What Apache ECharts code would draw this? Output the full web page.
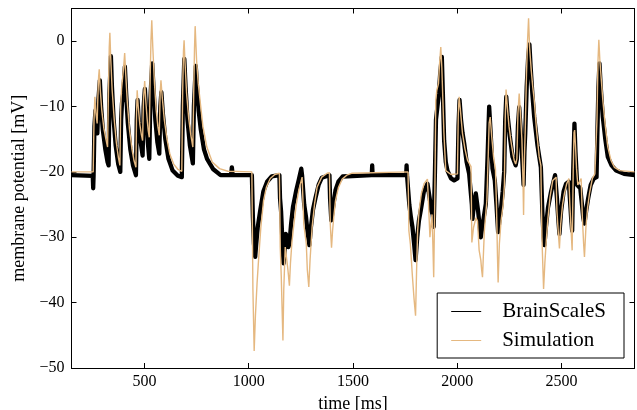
<!DOCTYPE html>
<html><head><meta charset="utf-8">
<script src="https://cdn.jsdelivr.net/npm/echarts@6/dist/echarts.min.js"></script>
<style>html,body{margin:0;padding:0;background:#fff}#c{width:637px;height:410px}</style>
</head><body><div id="c"></div>
<script>
const xTicks = [500, 1000, 1500, 2000, 2500];
const yTicks = [-50, -40, -30, -20, -10, 0];
const seriesNames = ['BrainScaleS', 'Simulation'];

const brainscales = [
[150,-20.5],[252,-20.6],[254,-22.5],[256,-20.5],
[260,-13],[265,-10.6],[270,-13],[274,-14.1],
[279,-9],[286,-6],
[292,-10],[300,-13.5],[312,-16.5],[323,-18.5],[328,-19],
[332,-8],[339,-2.3],
[344,-7],[352,-12],[362,-16],[374,-18.8],[384,-20],
[388,-12],[392,-9.5],[398,-8],[406,-3.9],
[412,-8],[420,-12.5],[432,-16.5],[445,-19],[459,-20.5],
[463,-12],[467,-9],
[473,-12.5],[482,-15.5],[491,-17.5],
[496,-10],[502,-7.3],
[508,-11],[516,-15.5],[523,-18],
[528,-9],[537,-3.4],
[543,-7],[552,-12],[562,-15.5],[571,-17.2],
[576,-10],[581,-7.8],
[588,-11],[600,-15],[615,-18],[635,-19.8],[660,-20.6],[679,-20.8],
[684,-10],[691,-2.7],
[697,-7],[706,-12],[718,-16],[732,-18.7],
[737,-10],[746,-3.8],
[752,-7],[760,-10.7],[770,-13.5],[785,-16.5],[800,-18],[830,-19.6],[865,-20.5],[915,-20.5],[919,-19.3],[923,-20.5],[1015,-20.5],
[1020,-27],[1025,-31],[1031,-33],
[1036,-31],[1043,-28.5],[1055,-25.9],[1070,-23],[1088,-21.5],[1110,-20.7],[1147,-20.5],
[1150,-24],[1155,-26],[1162,-31],[1167,-34],
[1172,-32],[1178,-29.5],[1184,-30],[1190,-31.5],[1195,-31],
[1203,-28],[1212,-25.4],[1228,-22.8],[1240,-21.2],[1252,-19.5],[1256,-20.6],[1261,-20.6],
[1266,-25],[1275,-27],[1283,-29.5],[1291,-31.2],
[1298,-28.5],[1308,-25.8],[1320,-24],[1335,-22],[1350,-20.9],[1387,-20.5],
[1390,-24],[1396,-27.4],
[1404,-25.5],[1416,-22.8],[1430,-21.5],[1450,-20.7],[1590,-20.5],[1592,-19],[1594,-20.5],[1755,-20.5],[1757,-19],[1759,-20.5],[1764,-20.5],
[1770,-25],[1778,-27],[1785,-28.4],[1793,-31],[1800,-33.5],
[1808,-30],[1816,-27.5],[1825,-25.9],[1840,-23],[1857,-21.8],[1866,-21.5],
[1870,-24.5],[1876,-26],[1882,-26.5],[1887,-28.4],
[1893,-20],[1898,-12],[1905,-10],[1912,-8],[1918,-5],[1926,-2.4],
[1931,-8],[1937,-15.2],[1945,-18.5],[1953,-19.8],[1970,-21],[1985,-21.3],[2001,-21],
[2006,-13],[2011,-9],
[2018,-12],[2025,-14],[2033,-15.6],[2045,-18.5],[2057,-20.3],[2066,-20.5],
[2070,-25],[2073,-27.2],
[2080,-25],[2089,-23.3],[2100,-26],[2108,-28.5],[2113,-30],
[2122,-28],[2137,-24.9],[2145,-18],[2153,-10],
[2160,-14],[2169,-19.5],[2180,-21.3],[2188,-25],[2196,-29.2],
[2202,-27.5],[2209,-25.9],[2218,-23],[2225,-20],[2230,-12],[2235,-8.5],
[2242,-11.5],[2252,-14.5],[2265,-17.7],[2280,-19],[2286,-18],
[2291,-13],[2297,-10.1],
[2303,-13],[2310,-17],[2315,-20],[2318,-22],
[2322,-17],[2326,-14.1],[2333,-7],[2340,-2.5],[2346,-0.5],
[2352,-4],[2360,-8],[2369,-11.6],[2385,-16],[2401,-19.3],
[2408,-26],[2414,-30],[2418,-31.2],
[2425,-28.5],[2435,-25.5],[2450,-23],[2469,-20.5],
[2478,-24],[2484,-27],[2490,-29.5],
[2498,-26],[2510,-23],[2522,-21.8],[2535,-21.5],
[2540,-24],[2546,-27],[2551,-29],
[2556,-20],[2562,-12.6],
[2567,-17],[2575,-22],[2590,-22.5],
[2598,-25],[2604,-27],[2610,-27.9],
[2618,-26],[2628,-24],[2640,-22],[2655,-21],[2668,-20.8],
[2672,-14],[2677,-7],[2682,-3.4],
[2688,-7],[2698,-11.6],[2710,-15],[2722,-17.7],[2740,-19],[2762,-19.8],[2800,-20.3],[2850,-20.5]
];

const simulation = [
[150,-20],[254,-20],
[258,-12],[262,-8.5],
[267,-11],[273,-12.6],
[276,-9],[280,-5.5],[283,-4.3],
[288,-7.5],[295,-10.5],[305,-13.3],[315,-15],[323,-16.2],
[327,-8],[331,-1],[334,1.3],
[338,-2.5],[345,-7.5],[355,-12],[365,-15.5],[375,-17.8],[382,-19],
[386,-10],[390,-7.3],[395,-7.5],[400,-4],[405,-1.8],
[410,-5],[418,-9.5],[428,-13.5],[440,-16.5],[450,-18.3],[459,-19.3],
[462,-11],[465,-7.5],
[470,-10],[478,-12.8],[485,-14.3],[491,-15.2],
[495,-9],[501,-6.1],
[506,-9],[513,-12],[518,-13.7],[523,-14.7],
[527,-6],[531,0],[535,3.2],
[540,-1],[548,-6.5],[556,-10.5],[564,-13],[571,-14.4],
[575,-8],[579,-6],
[585,-8.5],[595,-12],[608,-15],[622,-17.3],[640,-18.8],[660,-19.6],[679,-19.9],
[683,-8],[687,-1.5],[690,0.15],
[694,-3],[702,-8],[712,-11.8],[722,-14.3],[732,-16.2],
[736,-8],[740,-1],[743,2.3],
[750,-3],[758,-6.5],[767,-9.2],[780,-13],[799,-16.2],[825,-18.5],[860,-19.5],[900,-19.9],[1015,-20],
[1020,-38],[1026,-47.4],
[1032,-42],[1040,-37],[1047,-33.5],[1058,-28.5],[1071,-24.4],[1085,-22.3],[1103,-21],[1125,-20.4],[1147,-20.2],
[1151,-31.5],[1156,-36],[1160,-41],[1164,-45.8],
[1168,-38],[1175,-31.5],[1180,-31.5],[1188,-35],[1195,-37.4],
[1200,-34],[1207,-30.8],[1215,-28.4],[1228,-25],[1240,-22.8],[1256,-20.8],[1261,-20.6],
[1264,-28],[1270,-29.5],[1276,-31],[1281,-35],[1288,-37.6],
[1294,-33.5],[1304,-28.4],[1316,-24.8],[1328,-22.3],[1350,-20.8],[1376,-20.2],[1387,-20.1],
[1391,-28],[1397,-31.6],
[1402,-29],[1408,-26.8],[1416,-24.4],[1430,-22.4],[1448,-21.1],[1470,-20.5],[1496,-20.2],[1764,-20],
[1768,-29],[1775,-31],[1785,-36],[1793,-39.5],[1800,-42],
[1805,-35],[1810,-29],[1817,-25.9],[1828,-23.3],[1841,-21.8],[1857,-21.1],[1866,-21],
[1869,-30],[1874,-28],[1879,-26.5],[1883,-31],[1887,-36.1],
[1892,-25],[1897,-9],[1902,-7.5],[1910,-6.5],[1915,-3.5],[1921,-0.9],
[1926,-4],[1931,-9],[1936,-14],[1940,-16.7],[1945,-19.8],[1970,-20.4],[2001,-20.3],
[2005,-11],[2009,-8.5],
[2015,-10.5],[2025,-14.1],[2037,-16.5],[2049,-18.2],[2066,-19.2],
[2070,-30.8],[2073,-31],
[2078,-28.5],[2090,-27],[2097,-27.5],[2105,-32],[2113,-33.5],[2117,-35],[2121,-36.1],
[2130,-29],[2142,-24.4],[2148,-18],[2153,-12.5],[2158,-11.6],
[2165,-14.5],[2175,-18],[2183,-19.5],[2188,-25],[2193,-33],[2196,-36.9],
[2202,-31],[2210,-27.5],[2220,-25],[2226,-22],[2230,-12],[2234,-7.4],
[2240,-10],[2248,-13],[2257,-15.2],[2266,-17],[2273,-18.2],[2280,-18.8],[2286,-18],
[2291,-11],[2297,-8],
[2303,-11],[2310,-15],[2315,-21],[2318,-26.6],
[2322,-18],[2326,-13.6],[2332,-5],[2337,0],[2342,3.5],
[2347,-1],[2355,-4.5],[2362,-7],[2369,-9],[2380,-13.5],[2393,-17.7],[2401,-19],
[2406,-30],[2414,-37.9],
[2420,-34],[2427,-30.5],[2434,-27.4],[2445,-23.8],[2458,-21.3],[2474,-20.8],
[2478,-26],[2484,-29],[2490,-31.7],
[2496,-28],[2505,-25],[2514,-23.3],[2525,-21.8],[2535,-21],
[2540,-25],[2546,-29],[2551,-32],
[2556,-20],[2560,-14],[2563,-13.6],
[2567,-16],[2572,-19.5],[2578,-22],[2586,-21.5],[2594,-21],
[2600,-27],[2606,-31],[2610,-33],
[2617,-28.5],[2625,-25.5],[2634,-23.3],[2648,-21],[2660,-20.3],[2666,-20],
[2670,-12],[2675,-3],[2679,0.2],
[2684,-3],[2691,-6],[2698,-9],[2710,-13],[2722,-16.2],[2738,-18.3],[2754,-19.3],[2780,-19.8],[2850,-20]
];

const FONT = '"Liberation Serif", "DejaVu Serif", serif';
const TAN = '#e5b880';
const fmt = v => String(v).replace('-', '\u2212');
// legend line icon: thin bar centred in a 30x20 box (degenerate corners keep the box size)
const LINE_ICON = 'path://M0,0L30,0L30,0.001Z M0,9.5L30,9.5L30,10.5L0,10.5Z M0,20L30,20L30,20.001Z';
const chart = echarts.init(document.getElementById('c'), null, {renderer: 'canvas'});
const axisLine = {show: true, onZero: false, lineStyle: {color: '#000', width: 1}};
const tick = (vals) => ({show: true, inside: true, length: 5, lineStyle: {color: '#000', width: 1}, customValues: vals});
chart.setOption({
  animation: false,
  backgroundColor: '#fff',
  grid: {left: 71.5, right: 2.5, top: 8.5, bottom: 42, containLabel: false, outerBoundsMode: 'none'},
  xAxis: [
    {type: 'value', min: 150, max: 2850, position: 'bottom',
     name: 'time [ms]', nameLocation: 'middle', nameGap: 22,
     nameTextStyle: {fontFamily: FONT, fontSize: 18, color: '#000'},
     axisLine: axisLine, axisTick: tick(xTicks), splitLine: {show: false},
     axisLabel: {customValues: xTicks, margin: 6, fontFamily: FONT, fontSize: 16, color: '#000', formatter: fmt}},
    {type: 'value', min: 150, max: 2850, position: 'top',
     axisLine: axisLine, axisTick: tick(xTicks), splitLine: {show: false},
     axisLabel: {show: false}}
  ],
  yAxis: [
    {type: 'value', min: -50, max: 5, interval: 10, position: 'left',
     name: 'membrane potential [mV]', nameLocation: 'middle', nameGap: 36, nameRotate: 90,
     nameTextStyle: {fontFamily: FONT, fontSize: 18, color: '#000'},
     axisLine: axisLine, axisTick: tick(yTicks), splitLine: {show: false},
     axisLabel: {customValues: yTicks, margin: 7, fontFamily: FONT, fontSize: 16, color: '#000', formatter: fmt}},
    {type: 'value', min: -50, max: 5, interval: 10, position: 'right',
     axisLine: axisLine, axisTick: tick(yTicks), splitLine: {show: false},
     axisLabel: {show: false}}
  ],
  legend: {
    orient: 'vertical', right: 13, top: 293,
    padding: [8, 18, 7, 14], itemWidth: 30, itemHeight: 20, itemGap: 8,
    borderColor: '#000', borderWidth: 1, borderRadius: 0, backgroundColor: '#fff',
    textStyle: {fontFamily: FONT, fontSize: 21, color: '#000', lineHeight: 20, padding: [0, 0, 0, 16]},
    data: [
      {name: seriesNames[0], icon: LINE_ICON, itemStyle: {color: '#000', borderWidth: 0}},
      {name: seriesNames[1], icon: LINE_ICON, itemStyle: {color: TAN, borderWidth: 0}}
    ]
  },
  series: [
    {type: 'line', name: seriesNames[0], data: brainscales, symbol: 'none', z: 2,
     lineStyle: {color: '#000', width: 4.3, join: 'round'}, itemStyle: {color: '#000'}},
    {type: 'line', name: seriesNames[1], data: simulation, symbol: 'none', z: 3,
     lineStyle: {color: TAN, width: 1.4}, itemStyle: {color: TAN}}
  ]
});
</script>
</body></html>
